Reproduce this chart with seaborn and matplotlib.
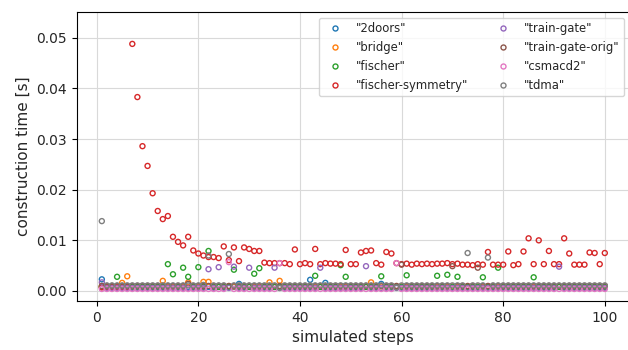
import numpy as np
import pandas as pd
import matplotlib
matplotlib.use("Agg")
import matplotlib.pyplot as plt
from matplotlib.lines import Line2D
import seaborn as sns

steps = list(range(1, 101))

models = ['"2doors"', '"bridge"', '"fischer"', '"fischer-symmetry"',
          '"train-gate"', '"train-gate-orig"', '"csmacd2"', '"tdma"']

t_2doors = [
    0.0023, 0.0008, 0.0008, 0.0008, 0.0008, 0.0008, 0.0008, 0.0008, 0.0008, 0.0008,
    0.0008, 0.0008, 0.0008, 0.0008, 0.0008, 0.0008, 0.0008, 0.0008, 0.0008, 0.0008,
    0.0008, 0.0008, 0.0008, 0.0008, 0.0008, 0.0008, 0.0008, 0.0014, 0.0008, 0.0008,
    0.0008, 0.0008, 0.0008, 0.0008, 0.0008, 0.0008, 0.0008, 0.0008, 0.0008, 0.0008,
    0.0008, 0.0022, 0.0008, 0.0008, 0.0016, 0.0008, 0.0008, 0.0008, 0.0008, 0.0008,
    0.0008, 0.0008, 0.0008, 0.0008, 0.0008, 0.0014, 0.0008, 0.0008, 0.0008, 0.0008,
    0.0008, 0.0008, 0.0008, 0.0008, 0.0008, 0.0008, 0.0008, 0.0008, 0.0008, 0.0008,
    0.0008, 0.0008, 0.0008, 0.0008, 0.0008, 0.0008, 0.0008, 0.0008, 0.0008, 0.0008,
    0.0008, 0.0008, 0.0008, 0.0008, 0.0008, 0.0008, 0.0008, 0.0008, 0.0008, 0.0008,
    0.0008, 0.0008, 0.0008, 0.0008, 0.0008, 0.0008, 0.0008, 0.0008, 0.0008, 0.0008,
]

t_bridge = [
    0.0009, 0.0009, 0.0009, 0.0009, 0.0016, 0.0029, 0.0009, 0.0009, 0.0009, 0.0009,
    0.0009, 0.0009, 0.0020, 0.0009, 0.0009, 0.0009, 0.0009, 0.0017, 0.0009, 0.0009,
    0.0018, 0.0018, 0.0009, 0.0009, 0.0009, 0.0009, 0.0009, 0.0009, 0.0009, 0.0009,
    0.0009, 0.0009, 0.0009, 0.0017, 0.0009, 0.0020, 0.0009, 0.0009, 0.0009, 0.0009,
    0.0009, 0.0009, 0.0009, 0.0009, 0.0009, 0.0009, 0.0009, 0.0009, 0.0009, 0.0009,
    0.0009, 0.0009, 0.0009, 0.0017, 0.0009, 0.0009, 0.0009, 0.0009, 0.0009, 0.0009,
    0.0009, 0.0009, 0.0009, 0.0009, 0.0009, 0.0009, 0.0009, 0.0009, 0.0009, 0.0009,
    0.0009, 0.0009, 0.0009, 0.0009, 0.0009, 0.0009, 0.0009, 0.0009, 0.0009, 0.0009,
    0.0009, 0.0009, 0.0009, 0.0009, 0.0009, 0.0009, 0.0009, 0.0009, 0.0009, 0.0009,
    0.0009, 0.0009, 0.0009, 0.0009, 0.0009, 0.0009, 0.0009, 0.0009, 0.0009, 0.0009,
]

t_fischer = [
    0.0008, 0.0008, 0.0008, 0.0028, 0.0008, 0.0008, 0.0008, 0.0008, 0.0008, 0.0008,
    0.0008, 0.0008, 0.0008, 0.0053, 0.0033, 0.0008, 0.0046, 0.0028, 0.0008, 0.0047,
    0.0008, 0.0079, 0.0008, 0.0008, 0.0008, 0.0008, 0.0042, 0.0008, 0.0008, 0.0008,
    0.0034, 0.0045, 0.0008, 0.0008, 0.0008, 0.0008, 0.0008, 0.0008, 0.0008, 0.0008,
    0.0008, 0.0008, 0.0030, 0.0008, 0.0008, 0.0008, 0.0008, 0.0051, 0.0028, 0.0008,
    0.0008, 0.0008, 0.0008, 0.0008, 0.0008, 0.0029, 0.0008, 0.0008, 0.0008, 0.0008,
    0.0031, 0.0008, 0.0008, 0.0008, 0.0008, 0.0008, 0.0030, 0.0008, 0.0032, 0.0008,
    0.0028, 0.0008, 0.0008, 0.0008, 0.0008, 0.0027, 0.0008, 0.0008, 0.0046, 0.0008,
    0.0008, 0.0008, 0.0008, 0.0008, 0.0008, 0.0027, 0.0008, 0.0008, 0.0008, 0.0008,
    0.0008, 0.0008, 0.0008, 0.0008, 0.0008, 0.0008, 0.0008, 0.0008, 0.0008, 0.0008,
]

t_fischer_sym = [
    0.0007, 0.0007, 0.0007, 0.0007, 0.0007, 0.0007, 0.0488, 0.0383, 0.0286, 0.0247,
    0.0193, 0.0158, 0.0142, 0.0148, 0.0107, 0.0097, 0.0090, 0.0107, 0.0080, 0.0074,
    0.0070, 0.0067, 0.0067, 0.0065, 0.0088, 0.0061, 0.0086, 0.0059, 0.0086, 0.0083,
    0.0079, 0.0079, 0.0056, 0.0055, 0.0055, 0.0055, 0.0055, 0.0053, 0.0082, 0.0053,
    0.0055, 0.0053, 0.0083, 0.0053, 0.0055, 0.0054, 0.0054, 0.0053, 0.0081, 0.0053,
    0.0053, 0.0076, 0.0079, 0.0080, 0.0055, 0.0052, 0.0077, 0.0074, 0.0055, 0.0053,
    0.0054, 0.0052, 0.0054, 0.0053, 0.0054, 0.0053, 0.0054, 0.0054, 0.0055, 0.0053,
    0.0054, 0.0052, 0.0052, 0.0051, 0.0053, 0.0052, 0.0077, 0.0052, 0.0052, 0.0052,
    0.0078, 0.0051, 0.0053, 0.0078, 0.0104, 0.0053, 0.0100, 0.0053, 0.0079, 0.0053,
    0.0053, 0.0104, 0.0074, 0.0052, 0.0052, 0.0052, 0.0076, 0.0075, 0.0053, 0.0075,
]

t_train_gate = [
    0.0017, 0.0006, 0.0006, 0.0006, 0.0006, 0.0006, 0.0006, 0.0006, 0.0006, 0.0006,
    0.0006, 0.0006, 0.0006, 0.0006, 0.0006, 0.0006, 0.0006, 0.0006, 0.0006, 0.0006,
    0.0006, 0.0043, 0.0006, 0.0047, 0.0006, 0.0006, 0.0048, 0.0006, 0.0006, 0.0046,
    0.0006, 0.0006, 0.0006, 0.0006, 0.0046, 0.0006, 0.0006, 0.0006, 0.0006, 0.0006,
    0.0006, 0.0006, 0.0006, 0.0046, 0.0006, 0.0006, 0.0006, 0.0006, 0.0006, 0.0006,
    0.0006, 0.0006, 0.0049, 0.0006, 0.0006, 0.0006, 0.0006, 0.0006, 0.0006, 0.0006,
    0.0006, 0.0006, 0.0006, 0.0006, 0.0006, 0.0006, 0.0006, 0.0006, 0.0006, 0.0006,
    0.0006, 0.0006, 0.0006, 0.0006, 0.0006, 0.0006, 0.0006, 0.0006, 0.0006, 0.0006,
    0.0006, 0.0006, 0.0006, 0.0006, 0.0006, 0.0006, 0.0006, 0.0006, 0.0006, 0.0006,
    0.0048, 0.0006, 0.0006, 0.0006, 0.0006, 0.0006, 0.0006, 0.0006, 0.0006, 0.0006,
]

t_train_gate_orig = [
    0.0010, 0.0010, 0.0010, 0.0010, 0.0010, 0.0010, 0.0010, 0.0010, 0.0010, 0.0010,
    0.0010, 0.0010, 0.0010, 0.0010, 0.0010, 0.0010, 0.0010, 0.0014, 0.0010, 0.0010,
    0.0010, 0.0010, 0.0010, 0.0010, 0.0010, 0.0010, 0.0010, 0.0010, 0.0010, 0.0010,
    0.0010, 0.0010, 0.0010, 0.0010, 0.0010, 0.0010, 0.0010, 0.0010, 0.0010, 0.0010,
    0.0010, 0.0010, 0.0010, 0.0010, 0.0010, 0.0010, 0.0010, 0.0010, 0.0010, 0.0010,
    0.0010, 0.0010, 0.0010, 0.0010, 0.0010, 0.0010, 0.0010, 0.0010, 0.0010, 0.0052,
    0.0010, 0.0010, 0.0010, 0.0010, 0.0010, 0.0010, 0.0010, 0.0010, 0.0010, 0.0049,
    0.0010, 0.0010, 0.0010, 0.0010, 0.0046, 0.0010, 0.0010, 0.0010, 0.0010, 0.0010,
    0.0010, 0.0010, 0.0010, 0.0010, 0.0010, 0.0010, 0.0010, 0.0010, 0.0010, 0.0010,
    0.0010, 0.0010, 0.0010, 0.0010, 0.0010, 0.0010, 0.0010, 0.0010, 0.0010, 0.0010,
]

t_csmacd2 = [
    0.0004, 0.0004, 0.0004, 0.0004, 0.0004, 0.0004, 0.0004, 0.0004, 0.0004, 0.0004,
    0.0004, 0.0004, 0.0004, 0.0004, 0.0004, 0.0004, 0.0004, 0.0004, 0.0004, 0.0004,
    0.0004, 0.0004, 0.0004, 0.0004, 0.0004, 0.0057, 0.0004, 0.0004, 0.0004, 0.0004,
    0.0004, 0.0004, 0.0004, 0.0004, 0.0004, 0.0055, 0.0004, 0.0004, 0.0004, 0.0004,
    0.0004, 0.0004, 0.0004, 0.0004, 0.0004, 0.0004, 0.0004, 0.0004, 0.0004, 0.0004,
    0.0004, 0.0004, 0.0004, 0.0004, 0.0004, 0.0004, 0.0004, 0.0004, 0.0055, 0.0004,
    0.0004, 0.0004, 0.0004, 0.0004, 0.0004, 0.0004, 0.0004, 0.0004, 0.0004, 0.0004,
    0.0004, 0.0004, 0.0004, 0.0004, 0.0004, 0.0004, 0.0004, 0.0004, 0.0004, 0.0004,
    0.0004, 0.0004, 0.0004, 0.0004, 0.0004, 0.0004, 0.0004, 0.0004, 0.0004, 0.0004,
    0.0004, 0.0004, 0.0004, 0.0004, 0.0004, 0.0004, 0.0004, 0.0004, 0.0004, 0.0004,
]

t_tdma = [
    0.0138, 0.0011, 0.0011, 0.0011, 0.0011, 0.0011, 0.0011, 0.0011, 0.0011, 0.0011,
    0.0011, 0.0011, 0.0011, 0.0011, 0.0011, 0.0011, 0.0011, 0.0011, 0.0011, 0.0011,
    0.0012, 0.0070, 0.0011, 0.0011, 0.0011, 0.0073, 0.0011, 0.0011, 0.0011, 0.0011,
    0.0011, 0.0011, 0.0011, 0.0011, 0.0011, 0.0006, 0.0011, 0.0011, 0.0011, 0.0011,
    0.0011, 0.0011, 0.0011, 0.0011, 0.0011, 0.0011, 0.0011, 0.0011, 0.0011, 0.0011,
    0.0011, 0.0011, 0.0011, 0.0011, 0.0011, 0.0011, 0.0011, 0.0011, 0.0007, 0.0011,
    0.0011, 0.0011, 0.0011, 0.0011, 0.0011, 0.0011, 0.0011, 0.0011, 0.0011, 0.0011,
    0.0011, 0.0011, 0.0075, 0.0011, 0.0011, 0.0011, 0.0066, 0.0011, 0.0011, 0.0011,
    0.0011, 0.0011, 0.0011, 0.0011, 0.0011, 0.0011, 0.0011, 0.0011, 0.0011, 0.0011,
    0.0011, 0.0011, 0.0011, 0.0011, 0.0011, 0.0011, 0.0011, 0.0011, 0.0011, 0.0011,
]

series = [t_2doors, t_bridge, t_fischer, t_fischer_sym,
          t_train_gate, t_train_gate_orig, t_csmacd2, t_tdma]

df = pd.DataFrame({
    "step": np.tile(steps, len(models)),
    "time": np.concatenate(series),
    "model": np.repeat(models, len(steps)),
})

sns.set_style("ticks", {"axes.grid": True, "grid.color": ".85",
                        "axes.edgecolor": "black"})
plt.rcParams["font.family"] = ["DejaVu Sans"]

colors = sns.color_palette("tab10", len(models))

fig = plt.figure(figsize=(6.28, 3.5), dpi=100)
ax = fig.add_axes([0.1221, 0.14, 0.881, 0.8257])

handles = []
for m, c in zip(models, colors):
    sub = df[df["model"] == m]
    sns.scatterplot(data=sub, x="step", y="time", ax=ax, color=c,
                    marker="o", s=13, linewidth=1.0, legend=False)
    coll = ax.collections[-1]
    coll.set_edgecolor(c)
    coll.set_facecolor("none")
    handles.append(Line2D([], [], linestyle="", marker="o", markersize=3.6,
                          markerfacecolor="none", markeredgecolor=c,
                          markeredgewidth=1.0, label=m))

ax.set_xlim(-3.95, 104.95)
ax.set_ylim(-0.00198, 0.0551)
ax.set_xticks([0, 20, 40, 60, 80, 100])
ax.set_yticks([0.00, 0.01, 0.02, 0.03, 0.04, 0.05])
ax.yaxis.set_major_formatter(matplotlib.ticker.FormatStrFormatter("%.2f"))
ax.tick_params(labelsize=10, length=3.5, width=0.8, color="black")
ax.set_xlabel("simulated steps", fontsize=11)
ax.set_ylabel("construction time [s]", fontsize=11)
for sp in ax.spines.values():
    sp.set_linewidth(0.8)
    sp.set_color("black")

ax.legend(handles=handles, loc="upper right", ncol=2, fontsize="small",
          frameon=True, framealpha=0.8, edgecolor="0.8")

fig.savefig("out.png", dpi=100)
